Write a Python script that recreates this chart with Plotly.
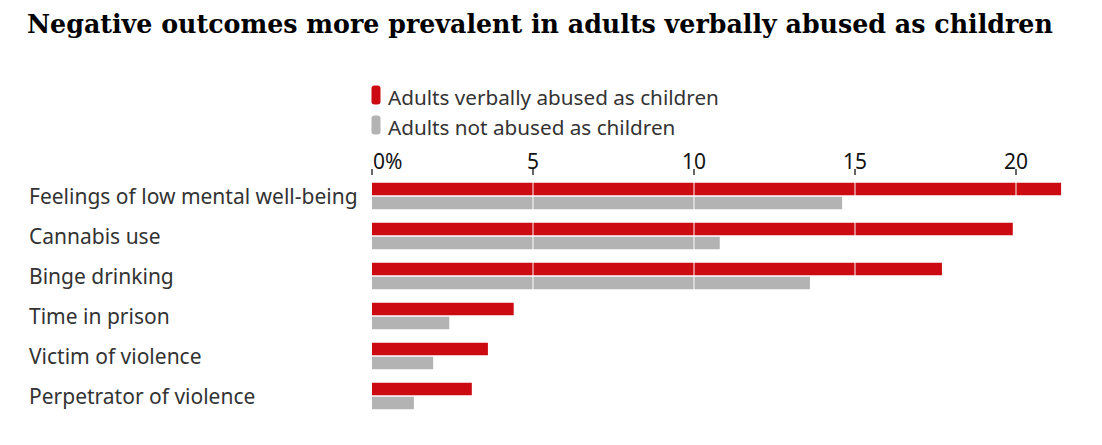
import plotly.graph_objects as go

# data (percent of adults)
categories = ["Feelings of low mental well-being", "Cannabis use", "Binge drinking",
              "Time in prison", "Victim of violence", "Perpetrator of violence"]
abused = [21.4, 19.9, 17.7, 4.4, 3.6, 3.1]
not_abused = [14.6, 10.8, 13.6, 2.4, 1.9, 1.3]
tick_vals = [0, 5, 10, 15, 20]
tick_text = ["0%", "5", "10", "15", "20"]
series_names = ["Adults verbally abused as children", "Adults not abused as children"]

RED = "#cc0a11"
GREY = "#b3b3b3"
TXT = "#333333"
SANS = "Noto Sans, sans-serif"

# the page puts the figure 8px in from the top left corner
OFF = 8
W, H = 1102 - OFF, 445 - OFF
ML, MR, MT, MB = 372 - OFF, 20, 176 - OFF, 29
PW = W - ML - MR
PH = H - MT - MB
PX_PER_UNIT = 32.2


def xp(px):
    # window pixel -> paper x
    return (px - OFF - ML) / PW


def yp(py):
    # window pixel -> paper y
    return 1 + (MT - (py - OFF)) / PH


fig = go.Figure()
fig.add_trace(go.Bar(y=categories, x=abused, orientation="h", name=series_names[0],
                     marker=dict(color=RED, line=dict(width=0))))
fig.add_trace(go.Bar(y=categories, x=not_abused, orientation="h", name=series_names[1],
                     marker=dict(color=GREY, line=dict(width=0))))

# white grid lines drawn over the bars
for v in tick_vals[1:]:
    fig.add_shape(type="line", xref="x", yref="paper", x0=v, x1=v, y0=0, y1=1,
                  line=dict(color="rgba(255,255,255,0.65)", width=1.5), layer="above")

# tick labels, "0%" left aligned
for v, t in zip(tick_vals, tick_text):
    fig.add_annotation(x=v, y=yp(161), xref="x", yref="paper", text=t, showarrow=False,
                       xanchor="left" if v == 0 else "center", yanchor="middle",
                       xshift=-1 if v == 0 else 0,
                       font=dict(family=SANS, size=21, color="#121212"))

# category labels, left aligned
for c in categories:
    fig.add_annotation(x=xp(27), y=c, xref="paper", yref="y", text=c, showarrow=False,
                       xanchor="left", yanchor="middle",
                       font=dict(family=SANS, size=21, color=TXT))


# custom legend with pill markers
def pill(x0, y0, w, h, rx, ry):
    x1, y1 = x0 + w, y0 + h
    return (f"M{x0+rx},{y0} L{x1-rx},{y0} Q{x1},{y0} {x1},{y0+ry} L{x1},{y1-ry} "
            f"Q{x1},{y1} {x1-rx},{y1} L{x0+rx},{y1} Q{x0},{y1} {x0},{y1-ry} "
            f"L{x0},{y0+ry} Q{x0},{y0} {x0+rx},{y0} Z")


for i, (name, col) in enumerate(zip(series_names, [RED, GREY])):
    cy = 95 + i * 30
    fig.add_shape(type="path", xref="paper", yref="paper",
                  path=pill(xp(371.5), yp(cy + 9.5), 9 / PW, 19 / PH, 3 / PW, 3 / PH),
                  fillcolor=col, line=dict(width=0))
    fig.add_annotation(x=xp(386), y=yp(cy + 2), xref="paper", yref="paper",
                       text=name, showarrow=False, xanchor="left", yanchor="middle",
                       font=dict(family=SANS, size=20.7, color=TXT))

fig.update_layout(
    width=W, height=H,
    margin=dict(l=ML, r=MR, t=MT, b=MB),
    paper_bgcolor="white", plot_bgcolor="white",
    barmode="group", bargap=0.3, bargroupgap=0.1,
    showlegend=False,
    title=dict(text="<b>Negative outcomes more prevalent in adults verbally abused as children</b>",
               x=(27 - OFF) / W, xanchor="left", y=1 - (24 - OFF) / H, yanchor="middle",
               font=dict(family="DejaVu Serif, serif", size=25.3, color="#000000")),
    xaxis=dict(side="top", range=[0, PW / PX_PER_UNIT], tickvals=tick_vals, showticklabels=False,
               ticks="outside", ticklen=6, tickwidth=2, tickcolor="#666666",
               showgrid=False, zeroline=False, showline=False, fixedrange=True),
    yaxis=dict(categoryorder="array", categoryarray=categories, autorange="reversed",
               showticklabels=False, showgrid=False, zeroline=False, showline=False,
               fixedrange=True),
)

fig.write_html("out.html")
